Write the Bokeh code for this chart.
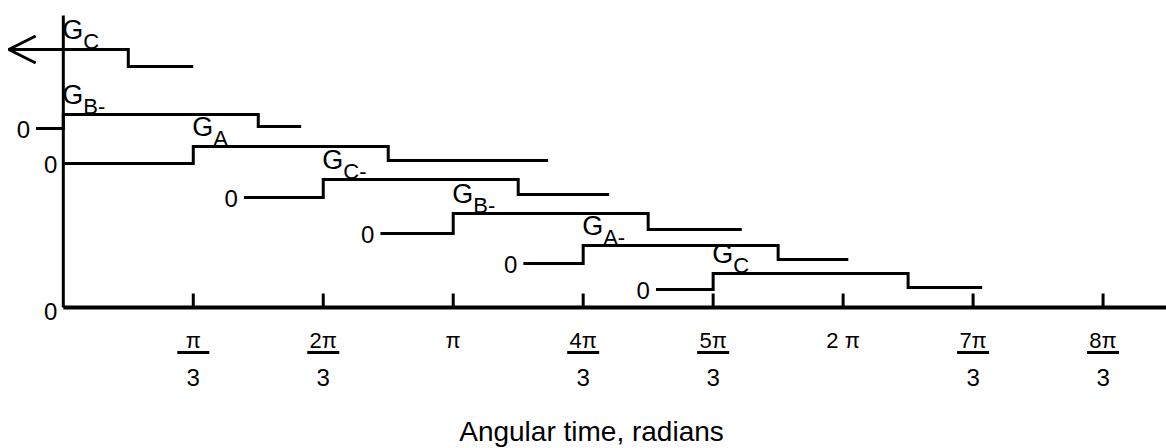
import numpy as np
from bokeh.plotting import figure
from bokeh.models import Range1d, Arrow, OpenHead, Label
from bokeh.core.properties import value
from bokeh.embed import file_html
from bokeh.resources import INLINE

U = np.pi / 3  # one tick step (π/3 radians)

# ---- x ticks (in steps of π/3) and their labels ----
tick_steps = [1, 2, 3, 4, 5, 6, 7, 8]
tick_num = ["π", "2π", "π", "4π", "5π", "2 π", "7π", "8π"]
tick_den = ["3", "3", "", "3", "3", "", "3", "3"]

# ---- gate signals (times in steps of π/3, levels in plot units) ----
sig_sub = ["C", "B-", "A", "C-", "B-", "A-", "C"]
sig_start = [-0.42, -0.21, 0.0, 1.39, 2.44, 3.54, 4.56]
sig_rise = [-1.0, 0.0, 1.0, 2.0, 3.0, 4.0, 5.0]
sig_fall = [0.5, 1.5, 2.5, 3.5, 4.5, 5.5, 6.5]
sig_end = [1.0, 1.83, 3.73, 4.20, 5.22, 6.04, 7.07]
sig_zero = [None, 179, 144, 110, 74, 44, 18]
sig_high = [258, 193, 161, 128, 94, 62, 34]
sig_low = [241, 181, 147, 113, 78, 48, 20]

axis_top = 292
x_title = "Angular time, radians"

FONT = value("Liberation Sans")

XMIN, XMAX = -0.4832 * U, 8.4881 * U
p = figure(width=1166, height=448, x_range=Range1d(XMIN, XMAX),
           y_range=Range1d(-141, 307), output_backend="svg",
           toolbar_location=None, x_axis_location=None, y_axis_location=None,
           min_border=0)
p.grid.visible = False
p.outline_line_color = None
p.background_fill_color = "white"

# axes (drawn as lines)
p.segment(x0=[0], y0=[0], x1=[XMAX], y1=[0], line_color="black", line_width=4)
p.segment(x0=[0], y0=[0], x1=[0], y1=[axis_top], line_color="black", line_width=3)
tx = [k * U for k in tick_steps]
p.segment(x0=tx, y0=[0] * len(tx), x1=tx, y1=[14] * len(tx),
          line_color="black", line_width=3)

# tick labels (numerator, fraction bar, denominator)
p.text(x=tx, y=[-33] * len(tx), text=tick_num, text_font=FONT,
       text_font_size=value("22px"), text_align="center",
       text_baseline="middle", text_color="black")
fx = [k * U for k, d in zip(tick_steps, tick_den) if d]
fd = [d for d in tick_den if d]
p.rect(x=fx, y=[-45] * len(fx), width=32, height=3, width_units="screen",
       height_units="screen", fill_color="black", line_color=None)
p.text(x=fx, y=[-69.5] * len(fx), text=fd, text_font=FONT,
       text_font_size=value("24px"), text_align="center",
       text_baseline="middle", text_color="black")

# signals
xs, ys = [], []
for s, r, f, e, z, h, lo in zip(sig_start, sig_rise, sig_fall, sig_end,
                                sig_zero, sig_high, sig_low):
    if s < r:
        px = [s, r, r, f, f, e]
        py = [z, z, h, h, lo, lo]
    else:
        px = [s, f, f, e]
        py = [h, h, lo, lo]
    xs.append([v * U for v in px])
    ys.append(py)
p.multi_line(xs=xs, ys=ys, line_color="black", line_width=3,
             line_join="miter")

# arrow head on the first G_C trace
p.add_layout(Arrow(end=OpenHead(size=27, line_width=3, line_color="black"),
                   x_start=0, y_start=sig_high[0],
                   x_end=sig_start[0] * U, y_end=sig_high[0],
                   line_width=3, line_color="black"))

# signal names: G with subscript
gx = [max(r, 0) * U for r in sig_rise]
p.text(x=gx, y=[h + 20 for h in sig_high], text=["G"] * len(gx),
       text_font=FONT, text_font_size=value("27px"), x_offset=-1,
       text_align="left", text_baseline="middle", text_color="black")
p.text(x=gx, y=[h + 8.5 for h in sig_high], text=sig_sub,
       text_font=FONT, text_font_size=value("22px"), x_offset=20,
       text_align="left", text_baseline="middle", text_color="black")

# zero labels
zx = [0.0] + [s * U for s, z in zip(sig_start, sig_zero) if z is not None]
zy = [-3] + [z for z in sig_zero if z is not None]
p.text(x=zx, y=zy, text=["0"] * len(zx), text_font=FONT,
       text_font_size=value("24px"), x_offset=-6, y_offset=1,
       text_align="right", text_baseline="middle", text_color="black")

# axis title
p.add_layout(Label(x=591, x_units="screen", y=-124, y_units="data",
                   text=x_title, text_font="Liberation Sans",
                   text_font_size="28px", text_align="center",
                   text_baseline="middle", text_color="black"))

open("out.html", "w").write(file_html(p, INLINE))
